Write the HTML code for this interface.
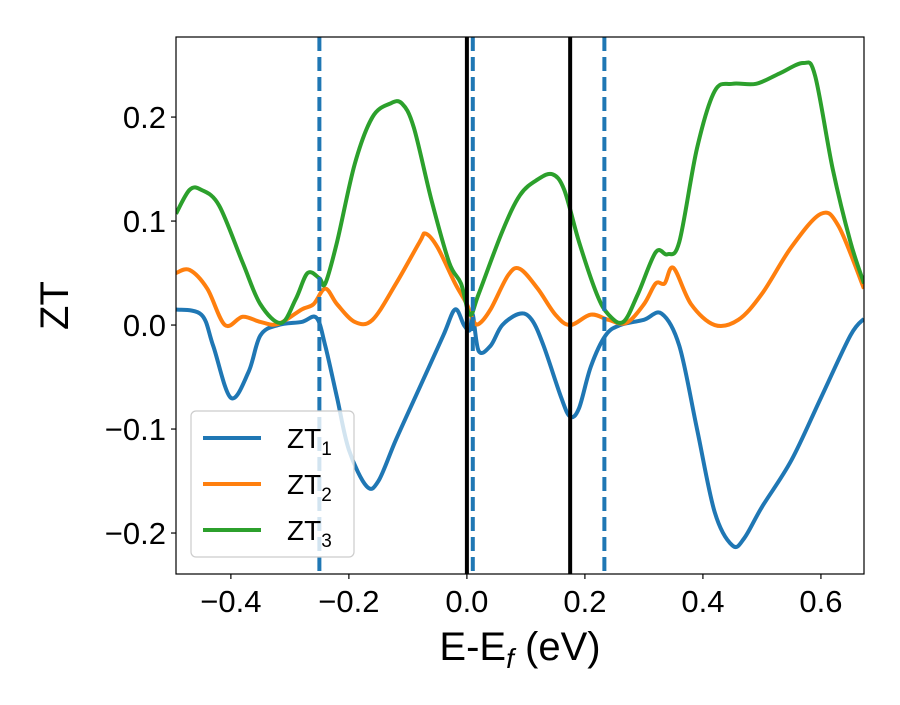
<!DOCTYPE html>
<html><head><meta charset="utf-8"><style>
body{margin:0;background:#fff;}
svg text{font-family:"Liberation Sans","DejaVu Sans",sans-serif;}
</style></head><body>
<svg id="chart" width="900" height="700" xmlns="http://www.w3.org/2000/svg">
<rect width="900" height="700" fill="#fff"/>
<g id="plot"></g>
</svg>
<script>
const xBlue=[-0.493,-0.45,-0.43,-0.40,-0.37,-0.35,-0.32,-0.28,-0.255,-0.24,-0.22,-0.20,-0.17,-0.15,-0.12,-0.08,-0.04,-0.02,-0.005,0.005,0.01,0.02,0.04,0.06,0.09,0.11,0.13,0.16,0.175,0.19,0.21,0.235,0.26,0.3,0.33,0.36,0.39,0.42,0.45,0.47,0.5,0.55,0.60,0.65,0.673];
const zt1=[0.015,0.01,-0.02,-0.07,-0.045,-0.01,0.0,0.003,0.007,-0.02,-0.07,-0.12,-0.155,-0.15,-0.11,-0.06,-0.01,0.015,0.0,-0.005,0.01,-0.025,-0.02,0.0,0.011,0.005,-0.02,-0.07,-0.088,-0.08,-0.04,-0.01,0.0,0.005,0.011,-0.02,-0.1,-0.18,-0.212,-0.205,-0.175,-0.13,-0.07,-0.01,0.006];
const xOrange=[-0.493,-0.47,-0.44,-0.41,-0.38,-0.35,-0.32,-0.28,-0.26,-0.24,-0.22,-0.19,-0.16,-0.12,-0.08,-0.07,-0.05,-0.02,0.0,0.01,0.02,0.04,0.07,0.09,0.12,0.15,0.175,0.21,0.24,0.27,0.3,0.32,0.335,0.35,0.38,0.42,0.46,0.50,0.55,0.60,0.63,0.673];
const zt2=[0.05,0.053,0.035,0.0,0.008,0.003,0.001,0.015,0.02,0.035,0.02,0.003,0.005,0.04,0.08,0.088,0.075,0.04,0.02,0.005,0.001,0.015,0.048,0.054,0.035,0.01,0.0,0.01,0.005,0.002,0.02,0.04,0.04,0.055,0.02,0.0,0.005,0.03,0.075,0.107,0.095,0.035];
const xGreen=[-0.493,-0.47,-0.45,-0.42,-0.38,-0.35,-0.315,-0.29,-0.27,-0.25,-0.24,-0.22,-0.19,-0.16,-0.13,-0.11,-0.09,-0.06,-0.03,-0.01,0.005,0.02,0.06,0.09,0.12,0.145,0.165,0.19,0.22,0.24,0.265,0.29,0.32,0.34,0.36,0.39,0.42,0.45,0.49,0.53,0.57,0.59,0.62,0.65,0.673];
const zt3=[0.107,0.13,0.13,0.115,0.06,0.02,0.002,0.025,0.05,0.045,0.04,0.08,0.155,0.2,0.213,0.213,0.19,0.12,0.06,0.04,0.01,0.03,0.09,0.125,0.14,0.145,0.13,0.08,0.03,0.01,0.003,0.03,0.07,0.068,0.08,0.17,0.225,0.232,0.232,0.242,0.252,0.24,0.15,0.08,0.04];
const xTicks=[-0.4,-0.2,0.0,0.2,0.4,0.6];
const xTickLabels=["\u22120.4","\u22120.2","0.0","0.2","0.4","0.6"];
const yTicks=[-0.2,-0.1,0.0,0.1,0.2];
const yTickLabels=["\u22120.2","\u22120.1","0.0","0.1","0.2"];
const solidLines=[0.0,0.175];
const dashedLines=[-0.25,0.01,0.233];

const L=176,R=864,T=37,B=574;
const xMin=-0.493,xMax=0.673,yMin=-0.2394,yMax=0.277;
const sx=v=>L+(v-xMin)/(xMax-xMin)*(R-L);
const sy=v=>B-(v-yMin)/(yMax-yMin)*(B-T);
const NS="http://www.w3.org/2000/svg";
const g=document.getElementById('plot');
function mk(t,a,p){const e=document.createElementNS(NS,t);for(const k in a)e.setAttribute(k,a[k]);(p||g).appendChild(e);return e;}
function smooth(xs,ys){const p=xs.map((x,i)=>[sx(x),sy(ys[i])]);let d=`M${p[0][0]},${p[0][1]}`;
for(let i=0;i<p.length-1;i++){const p0=p[Math.max(0,i-1)],p1=p[i],p2=p[i+1],p3=p[Math.min(p.length-1,i+2)];
const c1=[p1[0]+(p2[0]-p0[0])/6,p1[1]+(p2[1]-p0[1])/6],c2=[p2[0]-(p3[0]-p1[0])/6,p2[1]-(p3[1]-p1[1])/6];
d+=`C${c1[0]},${c1[1]} ${c2[0]},${c2[1]} ${p2[0]},${p2[1]}`;}return d;}
const defs=mk('defs',{});const cp=mk('clipPath',{id:'clip'},defs);mk('rect',{x:L,y:T,width:R-L,height:B-T},cp);
const cg=mk('g',{'clip-path':'url(#clip)'});
[[xBlue,zt1,'#1f77b4','zt1-line'],[xOrange,zt2,'#ff7f0e','zt2-line'],[xGreen,zt3,'#2ca02c','zt3-line']].forEach(s=>{
const e=mk('path',{d:smooth(s[0],s[1]),fill:'none',stroke:s[2],'stroke-width':4,'stroke-linejoin':'round'},cg);

});
solidLines.forEach(v=>{const e=mk('line',{x1:sx(v),x2:sx(v),y1:T,y2:B,stroke:'#000','stroke-width':4},cg);

});
dashedLines.forEach(v=>{const e=mk('line',{x1:sx(v),x2:sx(v),y1:T,y2:B,stroke:'#1f77b4','stroke-width':4,'stroke-dasharray':'14,6'},cg);

});
const fr=mk('rect',{x:L,y:T,width:R-L,height:B-T,fill:'none',stroke:'#000','stroke-width':1.2});


xTicks.forEach((v,i)=>{mk('line',{x1:sx(v),x2:sx(v),y1:B,y2:B+5,stroke:'#000','stroke-width':1.2});
const t=mk('text',{x:sx(v),y:B+38,'font-size':31,'text-anchor':'middle'});t.textContent=xTickLabels[i];

});
yTicks.forEach((v,i)=>{mk('line',{x1:L-5,x2:L,y1:sy(v),y2:sy(v),stroke:'#000','stroke-width':1.2});
const t=mk('text',{x:L-10,y:sy(v)+11,'font-size':31,'text-anchor':'end'});t.textContent=yTickLabels[i];

});
const xl=mk('text',{x:(L+R)/2,y:660,'font-size':40,'text-anchor':'middle'});
xl.innerHTML='E-E<tspan font-size="28" dy="8" font-style="italic">f</tspan><tspan dy="-8"> (eV)</tspan>';


const yl=mk('text',{x:68,y:(T+B)/2,'font-size':40,'text-anchor':'middle',transform:`rotate(-90 68 ${(T+B)/2})`});yl.textContent='ZT';


const lg=mk('g',{});


mk('rect',{x:191,y:411,width:163,height:146,rx:5,fill:'#fff','fill-opacity':0.8,stroke:'#ccc','stroke-width':1.2},lg);
[['#1f77b4','1'],['#ff7f0e','2'],['#2ca02c','3']].forEach((s,i)=>{const y=438+i*46;
const le=mk('g',{},lg);


mk('line',{x1:203,x2:261,y1:y,y2:y,stroke:s[0],'stroke-width':4},le);
const t=mk('text',{x:287,y:y+10,'font-size':28},le);t.innerHTML=`ZT<tspan font-size="19" dy="7">${s[1]}</tspan>`;});
</script>
</body></html>
